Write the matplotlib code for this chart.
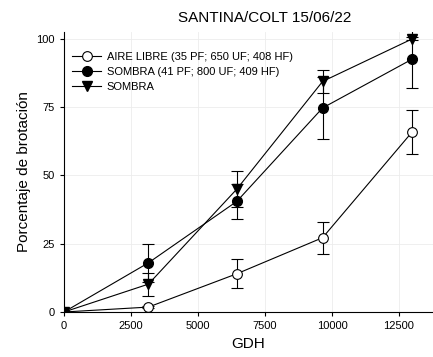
import matplotlib
matplotlib.use("Agg")
import matplotlib.pyplot as plt

plt.rcParams['font.family'] = ['Liberation Sans', 'DejaVu Sans']

gdh = [0, 3150, 6450, 9650, 13000]
aire = [0, 1.8, 14, 27.2, 66]
aire_err = [0, 0.5, 5.3, 5.8, 8.0]
sombra_c = [0, 18, 40.5, 74.7, 92.6]
sombra_c_err = [0, 7, 6.5, 11.3, 10.5]
sombra_t = [0, 10.2, 45, 84.4, 100]
sombra_t_err = [0, 4.2, 6.5, 4.3, 0.5]
labels = ["AIRE LIBRE (35 PF; 650 UF; 408 HF)",
          "SOMBRA (41 PF; 800 UF; 409 HF)",
          "SOMBRA"]

fig = plt.figure(figsize=(4.33, 3.57), dpi=100)
ax = fig.add_axes([64/433, 45/357, 1 - 64/433, (312-32)/357])

kw = dict(color='black', lw=0.8, capsize=4, elinewidth=0.8, capthick=0.8, markersize=7)
e1 = ax.errorbar(gdh, aire, yerr=aire_err, fmt='-o', mfc='white', mec='black', mew=0.8, **kw)
e2 = ax.errorbar(gdh, sombra_c, yerr=sombra_c_err, fmt='-o', mfc='black', mec='black', **kw)
e3 = ax.errorbar(gdh, sombra_t, yerr=sombra_t_err, fmt='-v', mfc='black', mec='black', **kw)

ax.set_xlim(0, 13770)
ax.set_ylim(0, 102.5)
ax.set_xticks([0, 2500, 5000, 7500, 10000, 12500])
ax.set_yticks([0, 25, 50, 75, 100])
ax.tick_params(labelsize=8, length=3, width=0.8)
ax.grid(True, color='#ececec', lw=0.6)
ax.set_axisbelow(True)
for s in ['top', 'right']:
    ax.spines[s].set_visible(False)
for s in ['left', 'bottom']:
    ax.spines[s].set_linewidth(0.8)
ax.set_xlabel("GDH", fontsize=11)
ax.set_ylabel("Porcentaje de brotación", fontsize=11)
fig.text(265/433, 1 - 18/357, "SANTINA/COLT 15/06/22", ha='center', va='center', fontsize=11)

ax.legend([e1[0], e2[0], e3[0]], labels, loc='upper left', frameon=False, fontsize=8,
          handlelength=2.6, handletextpad=0.5, labelspacing=0.45,
          bbox_to_anchor=(-0.005, 0.965))

fig.savefig("out.png", dpi=100)
